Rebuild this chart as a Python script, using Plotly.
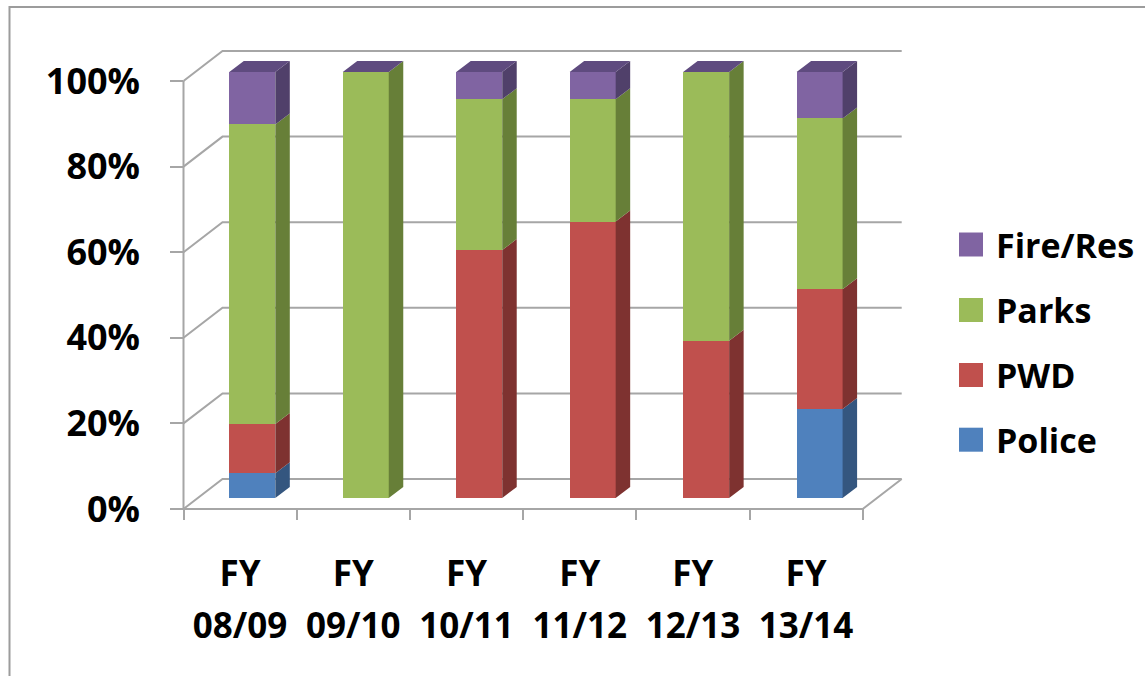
import plotly.graph_objects as go

# ---- data (percent share of each department per fiscal year) ----
categories = ["FY 08/09", "FY 09/10", "FY 10/11", "FY 11/12", "FY 12/13", "FY 13/14"]
series = ["Police", "PWD", "Parks", "Fire/Res"]
police = [5.8, 0, 0, 0, 0, 20.9]
pwd = [11.6, 0, 58.2, 64.9, 36.9, 28.1]
parks = [70.3, 100, 35.4, 28.7, 63.1, 40.1]
fire = [12.3, 0, 6.4, 6.4, 0, 10.9]
y_ticks = [0, 20, 40, 60, 80, 100]
y_tick_text = [f"{v}%" for v in y_ticks]

values = [police, pwd, parks, fire]

# ---- styling ----
face = {"Police": "#4F81BD", "PWD": "#C0504D", "Parks": "#9BBB59", "Fire/Res": "#8064A2"}
side = {"Police": "#34567F", "PWD": "#7E3230", "Parks": "#677F38", "Fire/Res": "#50406A"}
top_color = "#5F4B7F"
grid_color = "#A6A6A6"
FONT = "Open Sans"

W, H = 1145, 676
L, R, T, B = 170, 920, 40, 520          # plot area in px

# front plane (axis labels / floor edge)
FX0, FCW = 183.5, 113.2                  # px of left boundary, px per category
FY0, FYS = 509.0, 4.28                   # px of 0 %, px per percent
# plane of the bar fronts
BX0, BCW = 252.3, 113.46                 # px of first bar centre, px per category
BY0, BYS = 498.0, 4.26
DEPTH = (39.0, 30.0)                     # wall depth, px (right, up)
BAR_DEPTH = (14.5, 11.0)                 # bar depth, px (right, up)
BAR_W = 46.0                             # bar width, px

n = len(categories)

# axis ranges derived from the pixel geometry
x_rng = [(L - FX0) / FCW - 0.5, (R - FX0) / FCW - 0.5]
y_rng = [(FY0 - B) / FYS, (FY0 - T) / FYS]
x2_rng = [(L - BX0) / BCW, (R - BX0) / BCW]
y2_rng = [(BY0 - B) / BYS, (BY0 - T) / BYS]

fig = go.Figure()

# ---- walls and floor outline ----
dx, dy = DEPTH[0] / FCW, DEPTH[1] / FYS
xl, xr = -0.5, n - 0.5
wx, wy = [], []
for v in y_ticks:
    wx += [xl, xl + dx, xr + dx, None]
    wy += [v, v + dy, v + dy, None]
wx += [xl, xl, None, xl, xr, xr + dx, None]
wy += [y_ticks[-1], y_ticks[0], None, 0, 0, dy, None]
fig.add_trace(go.Scatter(x=wx, y=wy, mode="lines", line=dict(color=grid_color, width=2),
                         hoverinfo="skip", showlegend=False))

# ---- bars: front faces ----
bw = BAR_W / BCW
xs = list(range(n))
for name, vals in zip(series, values):
    fig.add_trace(go.Bar(x=xs, y=vals, name=name, width=bw,
                         marker=dict(color=face[name], line=dict(width=0)),
                         xaxis="x2", yaxis="y2", showlegend=False))

# ---- bars: side faces and top ----
bdx, bdy = BAR_DEPTH[0] / BCW, BAR_DEPTH[1] / BYS
base = [0.0] * n
for name, vals in zip(series, values):
    px_, py_ = [], []
    for i, v in enumerate(vals):
        if v > 0:
            xr_ = i + bw / 2
            b0, b1 = base[i], base[i] + v
            px_ += [xr_, xr_ + bdx, xr_ + bdx, xr_, xr_, None]
            py_ += [b0, b0 + bdy, b1 + bdy, b1, b0, None]
        base[i] += v
    fig.add_trace(go.Scatter(x=px_, y=py_, mode="lines", fill="toself",
                             fillcolor=side[name], line=dict(width=0, color=side[name]),
                             xaxis="x2", yaxis="y2", hoverinfo="skip", showlegend=False))

tx, ty = [], []
for i in range(n):
    x0, x1, t = i - bw / 2, i + bw / 2, base[i]
    tx += [x0, x1, x1 + bdx, x0 + bdx, x0, None]
    ty += [t, t, t + bdy, t + bdy, t, None]
fig.add_trace(go.Scatter(x=tx, y=ty, mode="lines", fill="toself", fillcolor=top_color,
                         line=dict(width=0, color=top_color),
                         xaxis="x2", yaxis="y2", hoverinfo="skip", showlegend=False))

# empty carriers so the two category-label axes get drawn
for ax in ("x3", "x4"):
    fig.add_trace(go.Scatter(x=xs, y=[None] * n, mode="none", xaxis=ax, yaxis="y",
                             hoverinfo="skip", showlegend=False))


def paper_x(px):
    return (px - L) / (R - L)


def paper_y(py):
    return (B - py) / (B - T)


# ---- legend (top entry first) ----
shapes = []
annotations = []
leg_y = [244.5, 310.0, 375.0, 439.7]
for name, cy in zip(reversed(series), leg_y):
    shapes.append(dict(type="rect", xref="paper", yref="paper",
                       x0=paper_x(959), x1=paper_x(983),
                       y0=paper_y(cy + 12), y1=paper_y(cy - 12),
                       fillcolor=face[name], line=dict(width=0)))
    annotations.append(dict(xref="paper", yref="paper", x=paper_x(994), y=paper_y(cy),
                            text=name, showarrow=False, xanchor="left", yanchor="middle",
                            font=dict(family=FONT, size=34, color="#000", weight="bold")))

# chart border
shapes.append(dict(type="rect", xref="paper", yref="paper",
                   x0=paper_x(9.5), y0=paper_y(7), x1=paper_x(1200), y1=paper_y(720),
                   line=dict(color="#9C9C9C", width=2), fillcolor="rgba(0,0,0,0)"))

fy = [c.split(" ")[0] for c in categories]
years = [c.split(" ")[1] for c in categories]
label_font = dict(family=FONT, size=35, color="#000", weight="bold")

fig.update_layout(
    width=W, height=H,
    margin=dict(l=L, r=W - R, t=T, b=H - B, autoexpand=False),
    paper_bgcolor="white", plot_bgcolor="white",
    barmode="stack", bargap=0,
    showlegend=False,
    font=dict(family=FONT, color="#000"),
    shapes=shapes, annotations=annotations,
    xaxis=dict(range=x_rng, tickvals=[i - 0.5 for i in range(n + 1)], showticklabels=False,
               ticks="inside", ticklen=11, tickwidth=2, tickcolor=grid_color,
               showgrid=False, zeroline=False, showline=False),
    yaxis=dict(range=y_rng, tickvals=y_ticks, ticktext=y_tick_text,
               ticks="inside", ticklen=13, tickwidth=2, tickcolor=grid_color,
               tickfont=dict(family=FONT, size=36, color="#000", weight="bold"),
               ticklabelstandoff=29,
               showgrid=False, zeroline=False, showline=False),
    xaxis2=dict(range=x2_rng, overlaying="x", anchor="y2", visible=False),
    yaxis2=dict(range=y2_rng, overlaying="y", anchor="x2", visible=False),
    xaxis3=dict(range=x_rng, overlaying="x", anchor="y", tickvals=xs, ticktext=fy,
                ticks="", showgrid=False, zeroline=False, showline=False,
                tickfont=label_font, ticklabelstandoff=30),
    xaxis4=dict(range=x_rng, overlaying="x", anchor="y", tickvals=xs, ticktext=years,
                ticks="", showgrid=False, zeroline=False, showline=False,
                tickfont=label_font, ticklabelstandoff=82),
)

fig.write_html("out.html")
